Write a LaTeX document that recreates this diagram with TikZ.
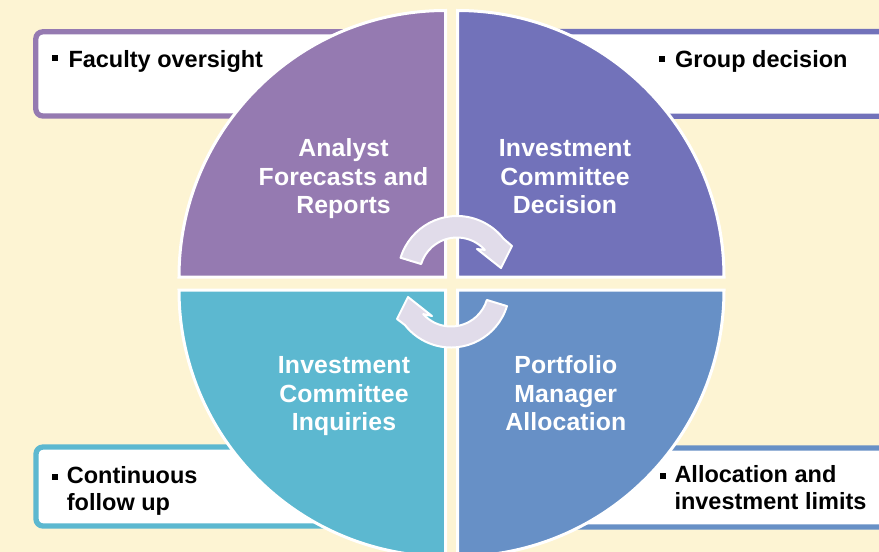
\documentclass[tikz,border=0pt]{standalone}
\usepackage{fontspec}
\setmainfont{Liberation Sans}
\newfontfamily\qfont[LetterSpace=0.5]{Liberation Sans}
\definecolor{bg}{HTML}{FDF4D3}
\definecolor{cA}{HTML}{957AB1}
\definecolor{cB}{HTML}{7272BA}
\definecolor{cC}{HTML}{5CB8D0}
\definecolor{cD}{HTML}{6790C6}
\definecolor{arr}{HTML}{E1DCEA}
\begin{document}
\begin{tikzpicture}[x=1pt,y=-1pt,
  quad/.style={draw=white, line width=3pt},
  box/.style={fill=white, line width=5.3pt, rounded corners=7pt},
  qtext/.style={text=white, font=\qfont\bfseries\fontsize{24.8}{28.3}\selectfont, align=center, anchor=base, inner sep=0pt},
  btext/.style={text=black, font=\bfseries\fontsize{23.5}{26.7}\selectfont, align=left, anchor=base west, inner sep=0pt},
  bul/.style={fill=black, minimum size=6pt, inner sep=0pt},
  cyc/.style={fill=arr, draw=white, line width=2pt, line join=round}]
\useasboundingbox (0,0) rectangle (879,552);
\fill[bg] (0,0) rectangle (879,552);
\begin{scope}
\clip (0,0) rectangle (879,552);
% side boxes
\draw[box, draw=cA] (35.8,31.8) rectangle (430,116);
\draw[box, draw=cB] (470,31.6) rectangle (895,116.3);
\draw[box, draw=cC] (36,447) rectangle (430,526);
\draw[box, draw=cD] (470,448) rectangle (895,527);
% quadrants
\draw[quad, fill=cA] (445.5,277) -- (179,277) arc[start angle=180, end angle=270, radius=266.5] -- cycle;
\draw[quad, fill=cB] (457.5,277) -- (457.5,10.5) arc[start angle=270, end angle=360, radius=266.5] -- cycle;
\draw[quad, fill=cD] (457.5,290) -- (724,290) arc[start angle=0, end angle=90, radius=266.5] -- cycle;
\draw[quad, fill=cC] (445.5,290) -- (445.5,556.5) arc[start angle=90, end angle=180, radius=266.5] -- cycle;
\end{scope}
% bullets
\node[bul] (b1) at (55.3,58.3) {};
\node[bul] (b2) at (662.3,58.8) {};
\node[bul] (b3) at (55.3,476.5) {};
\node[bul] (b4) at (662.5,476) {};
% box texts (base = last line)
\node[btext] (f1) at (68.3,67.7) {Faculty oversight};
\node[btext] (f2) at (675,67) {Group decision};
\node[btext] (f3) at (66.7,510) {Continuous\\follow up};
\node[btext] (f4) at (674.3,509.6) {Allocation and\\investment limits};
% quadrant texts (base = last line)
\node[qtext] (t1) at (343.5,213.3) {Analyst\\Forecasts and\\Reports};
\node[qtext] (t2) at (565,213.3) {Investment\\Committee\\Decision};
\node[qtext] (t3) at (344,430.3) {Investment\\Committee\\Inquiries};
\node[qtext] (t4) at (565.8,430.3) {Portfolio\\Manager\\Allocation};
% cycle arrows
\draw[cyc] (457,275) ++(197:59) arc[start angle=197, end angle=322, radius=59]
  -- (512,246) -- (501,268) -- (477,249)
  -- ([shift={(457,275)}]318:37.5) arc[start angle=318, end angle=197, radius=37.5] -- cycle;
\draw[cyc] (451,289) ++(17:58.5) arc[start angle=17, end angle=142, radius=58.5]
  -- (397,319) -- (408,297) -- (432,316)
  -- ([shift={(451,289)}]138:37.5) arc[start angle=138, end angle=17, radius=37.5] -- cycle;
\end{tikzpicture}
\end{document}
